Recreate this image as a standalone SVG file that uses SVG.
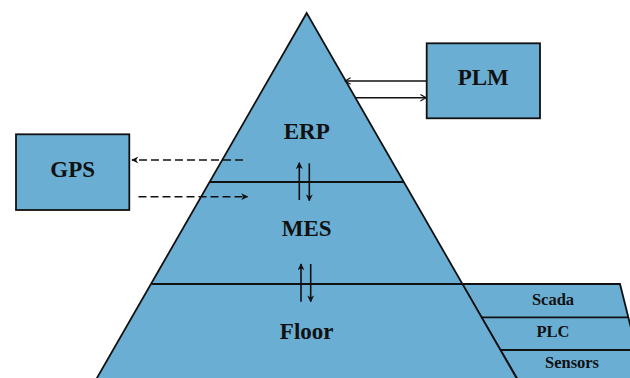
<svg xmlns="http://www.w3.org/2000/svg" width="630" height="378" viewBox="0 0 630 378">
  <style>
    .shape { fill: #6aaed3; stroke: #111; stroke-width: 1.8; }
    .sep { stroke: #111; stroke-width: 1.8; fill: none; }
    .big { font-family: "Liberation Serif", "Times New Roman", serif; font-weight: bold; font-size: 23px; fill: #111; text-anchor: middle; }
    .small { font-family: "Liberation Serif", "Times New Roman", serif; font-weight: bold; font-size: 16.5px; fill: #111; text-anchor: middle; }
    .conn { stroke: #111; stroke-width: 1.6; fill: none; }
    .dash { stroke-dasharray: 8 4; }
  </style>
  <defs>
    <marker id="arr" viewBox="0 0 10 10" refX="9" refY="5" markerWidth="7" markerHeight="7" orient="auto-start-reverse" markerUnits="userSpaceOnUse">
      <path d="M0,0 L10,5 L0,10 L3,5 Z" fill="#111"/>
    </marker>
    <marker id="chev" viewBox="0 0 10 10" refX="9" refY="5" markerWidth="8" markerHeight="8" orient="auto-start-reverse" markerUnits="userSpaceOnUse">
      <path d="M2,1 L9,5 L2,9" fill="none" stroke="#111" stroke-width="1.5"/>
    </marker>
  </defs>

  <g id="slabs">
    <polygon class="shape" points="462.2,284 620,284 644,380 518,380"/>
  </g>

  <g id="pyramid">
    <polygon class="shape" points="306.7,13 95.8,380 517.6,380"/>
    <line class="sep" x1="209.8" y1="182" x2="403.6" y2="182"/>
    <line class="sep" x1="151.6" y1="284" x2="620" y2="284"/>
  </g>

  <g id="scada">
    <text class="small" x="553" y="304.5">Scada</text>
  </g>
  <g id="plc">
    <line class="sep" x1="481.4" y1="317.3" x2="628.3" y2="317.3"/>
    <text class="small" x="553" y="336.5">PLC</text>
  </g>
  <g id="sensors">
    <line class="sep" x1="500.5" y1="350" x2="632" y2="350"/>
    <text class="small" x="572" y="368">Sensors</text>
  </g>

  <g id="erp">
    <text class="big" x="306.7" y="138.5">ERP</text>
  </g>
  <g id="mes">
    <text class="big" x="306.7" y="236">MES</text>
  </g>
  <g id="floor">
    <text class="big" x="306.7" y="338.5">Floor</text>
  </g>

  <g id="plm">
    <rect class="shape" x="426.7" y="43.3" width="113.3" height="75"/>
    <text class="big" x="483.3" y="85">PLM</text>
  </g>

  <g id="gps">
    <rect class="shape" x="16" y="134.3" width="113.3" height="75.7"/>
    <text class="big" x="72.7" y="176.7">GPS</text>
  </g>

  <g id="connectors">
    <line class="conn" x1="426" y1="81" x2="345" y2="81" marker-end="url(#chev)"/>
    <line class="conn" x1="355" y1="97.7" x2="426" y2="97.7" marker-end="url(#chev)"/>
    <line class="conn dash" x1="243" y1="160" x2="132" y2="160" marker-end="url(#arr)"/>
    <line class="conn dash" x1="138.5" y1="196.7" x2="247.5" y2="196.7" marker-end="url(#arr)"/>
    <line class="conn" x1="299.3" y1="200" x2="299.3" y2="162.7" marker-end="url(#arr)"/>
    <line class="conn" x1="309.3" y1="163.3" x2="309.3" y2="200.7" marker-end="url(#arr)"/>
    <line class="conn" x1="301" y1="301.7" x2="301" y2="264" marker-end="url(#arr)"/>
    <line class="conn" x1="310.7" y1="264" x2="310.7" y2="301.7" marker-end="url(#arr)"/>
  </g>
</svg>
